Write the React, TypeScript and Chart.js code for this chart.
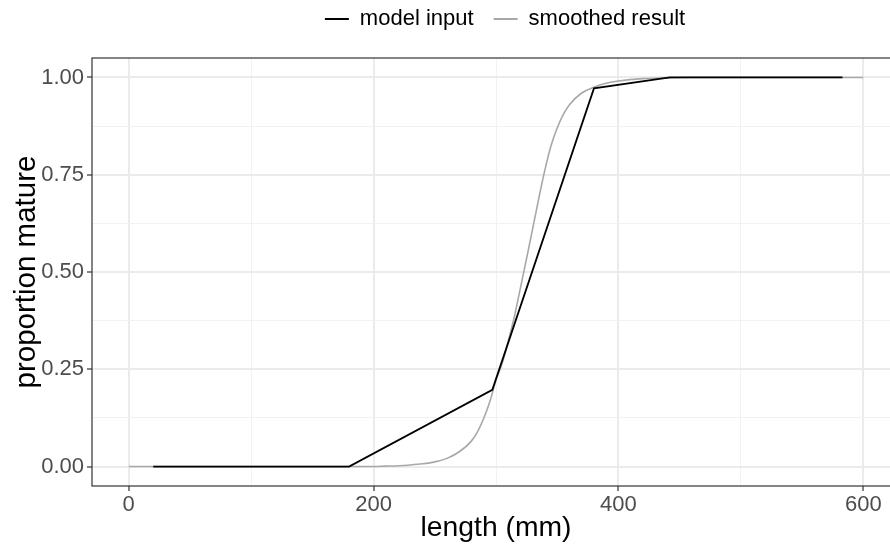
import React, { useEffect, useRef } from 'react';
import { Chart, registerables } from 'chart.js';

Chart.register(...registerables);

// ---- data ----
const MODEL_LENGTH = [20, 180, 297, 380, 442, 583];
const MODEL_PROP = [0, 0, 0.197, 0.972, 1.0, 1.0];

const SMOOTH_LENGTH = [0, 50, 100, 150, 200, 210, 220, 230, 240, 250, 260, 270, 280, 285, 290, 295, 300, 305, 310, 315, 320, 325, 330, 335, 340, 345, 350, 355, 360, 370, 380, 390, 400, 420, 440, 460, 500, 550, 600];
const SMOOTH_PROP = [0, 0, 0, 0, 0, 0.001, 0.002, 0.004, 0.007, 0.012, 0.021, 0.038, 0.066, 0.09, 0.124, 0.167, 0.222, 0.265, 0.322, 0.385, 0.46, 0.535, 0.612, 0.69, 0.763, 0.825, 0.87, 0.905, 0.93, 0.96, 0.975, 0.985, 0.991, 0.997, 0.999, 1, 1, 1, 1];

const SERIES_NAMES = ['model input', 'smoothed result'];
const X_MAJOR = [0, 200, 400, 600];
const X_MINOR = [100, 300, 500];
const Y_MAJOR = [0, 0.25, 0.5, 0.75, 1.0];
const Y_MINOR = [0.125, 0.375, 0.625, 0.875];
const X_TITLE = 'length (mm)';
const Y_TITLE = 'proportion mature';

const FONT = "'Liberation Sans', Arial, sans-serif";

const isIn = (arr: number[], v: number) => arr.some((a) => Math.abs(a - v) < 1e-9);

export default function App() {
  const ref = useRef<HTMLCanvasElement | null>(null);

  useEffect(() => {
    if (!ref.current) return;

    const legendSpace = {
      id: 'legendSpace',
      beforeInit(chart: any) {
        const legend = chart.legend;
        if (!legend) return;
        const orig = legend.fit;
        legend.fit = function () {
          orig.call(this);
          this.height += 18;
        };
      },
    };

    const panelBorder = {
      id: 'panelBorder',
      afterDraw(chart: any) {
        const { ctx, chartArea } = chart;
        const { left, right, top, bottom } = chartArea;
        ctx.save();
        ctx.strokeStyle = '#333333';
        ctx.lineWidth = 1.2;
        ctx.strokeRect(left, top, right - left, bottom - top);
        ctx.restore();
      },
    };

    const chart = new Chart(ref.current, {
      type: 'line',
      data: {
        datasets: [
          {
            label: SERIES_NAMES[0],
            data: MODEL_LENGTH.map((x, i) => ({ x, y: MODEL_PROP[i] })),
            borderColor: '#000000',
            backgroundColor: '#000000',
            borderWidth: 1.8,
            pointRadius: 0,
            tension: 0,
            yAxisID: 'y',
            order: 1,
          },
          {
            label: SERIES_NAMES[1],
            data: SMOOTH_LENGTH.map((x, i) => ({ x, y: SMOOTH_PROP[i] })),
            borderColor: '#A8A8A8',
            backgroundColor: '#A8A8A8',
            borderWidth: 1.6,
            pointRadius: 0,
            cubicInterpolationMode: 'monotone',
            yAxisID: 'y',
            order: 2,
          },
        ],
      },
      options: {
        animation: false,
        responsive: false,
        events: [],
        layout: { padding: 0 },
        plugins: {
          tooltip: { enabled: false },
          legend: {
            display: true,
            position: 'top',
            labels: {
              boxWidth: 24,
              boxHeight: 2,
              padding: 20,
              color: '#000000',
              font: { family: FONT, size: 22 },
              generateLabels: (c: any) =>
                c.data.datasets.map((ds: any, i: number) => ({
                  text: ds.label,
                  fillStyle: ds.borderColor,
                  strokeStyle: ds.borderColor,
                  lineWidth: 0,
                  hidden: false,
                  datasetIndex: i,
                  fontColor: '#000000',
                })),
            },
          },
        },
        scales: {
          x: {
            type: 'linear',
            position: 'bottom',
            min: -30,
            max: 630,
            afterBuildTicks: (s: any) => {
              s.ticks = [...X_MAJOR, ...X_MINOR].sort((a, b) => a - b).map((v) => ({ value: v }));
            },
            afterFit: (s: any) => {
              s.height = 62;
            },
            border: { display: false },
            grid: {
              color: (c: any) => (isIn(X_MAJOR, c.tick?.value) ? '#EBEBEB' : '#F2F2F2'),
              lineWidth: (c: any) => (isIn(X_MAJOR, c.tick?.value) ? 2 : 1),
              tickColor: (c: any) => (isIn(X_MAJOR, c.tick?.value) ? '#333333' : 'rgba(0,0,0,0)'),
              tickLength: 5,
              tickWidth: 1.2,
              drawTicks: true,
            },
            ticks: {
              autoSkip: false,
              maxRotation: 0,
              padding: 1,
              color: '#4D4D4D',
              font: { family: FONT, size: 22 },
              callback: (v: any) => (isIn(X_MAJOR, v) ? String(v) : ''),
            },
            title: {
              display: true,
              text: X_TITLE,
              color: '#000000',
              font: { family: FONT, size: 28.3 },
              padding: { top: 0, bottom: 3 },
            },
          },
          y: {
            type: 'linear',
            position: 'left',
            min: -0.05,
            max: 1.05,
            afterBuildTicks: (s: any) => {
              s.ticks = [...Y_MAJOR, ...Y_MINOR].sort((a, b) => a - b).map((v) => ({ value: v }));
            },
            afterFit: (s: any) => {
              s.width = 92;
            },
            border: { display: false },
            grid: {
              color: (c: any) => (isIn(Y_MAJOR, c.tick?.value) ? '#EBEBEB' : '#F2F2F2'),
              lineWidth: (c: any) => (isIn(Y_MAJOR, c.tick?.value) ? 2 : 1),
              tickColor: (c: any) => (isIn(Y_MAJOR, c.tick?.value) ? '#333333' : 'rgba(0,0,0,0)'),
              tickLength: 5,
              tickWidth: 1.2,
              drawTicks: true,
            },
            ticks: {
              autoSkip: false,
              padding: 3,
              color: '#4D4D4D',
              font: { family: FONT, size: 22 },
              callback: (v: any) => (isIn(Y_MAJOR, v) ? Number(v).toFixed(2) : ''),
            },
            title: {
              display: true,
              text: Y_TITLE,
              color: '#000000',
              font: { family: FONT, size: 29.5 },
              padding: { top: 9.5, bottom: 0 },
            },
          },
          yR: {
            type: 'linear',
            position: 'right',
            display: true,
            grid: { display: false, drawTicks: false },
            border: { display: false },
            ticks: { display: false },
            afterFit: (s: any) => {
              s.width = 110;
            },
          },
        },
      } as any,
      plugins: [legendSpace, panelBorder],
    });

    return () => chart.destroy();
  }, []);

  return (
    <div
      style={{
        position: 'fixed',
        left: 0,
        top: 0,
        width: 890,
        height: 548,
        overflow: 'hidden',
        background: '#ffffff',
      }}
    >
      <div style={{ position: 'absolute', left: 0, top: -12, width: 1010, height: 560 }}>
        <canvas ref={ref} width={1010} height={560} style={{ display: 'block' }} />
      </div>
    </div>
  );
}
